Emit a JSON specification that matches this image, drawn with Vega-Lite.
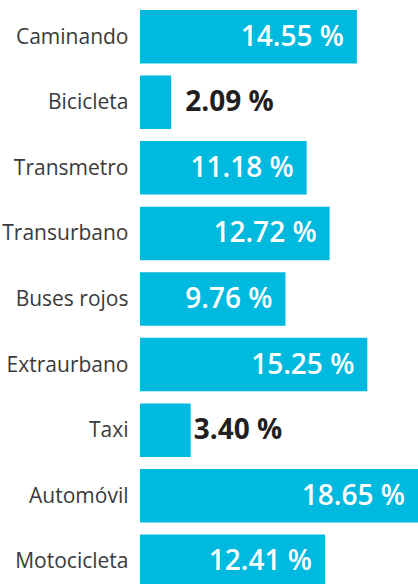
{
  "$schema": "https://vega.github.io/schema/vega-lite/v6.json",
  "autosize": "none",
  "width": 278,
  "height": 598,
  "padding": {"left": 140, "top": 0, "right": 0, "bottom": 0},
  "background": "white",
  "config": {"view": {"stroke": null}, "font": "Open Sans"},
  "data": {"values": [
    {"modo": "Caminando", "pct": 14.55},
    {"modo": "Bicicleta", "pct": 2.09},
    {"modo": "Transmetro", "pct": 11.18},
    {"modo": "Transurbano", "pct": 12.72},
    {"modo": "Buses rojos", "pct": 9.76},
    {"modo": "Extraurbano", "pct": 15.25},
    {"modo": "Taxi", "pct": 3.40},
    {"modo": "Automóvil", "pct": 18.65},
    {"modo": "Motocicleta", "pct": 12.41}
  ]},
  "transform": [{"calculate": "format(datum.pct, '.2f') + ' %'", "as": "label"}],
  "encoding": {
    "y": {"field": "modo", "type": "nominal", "sort": null,
      "scale": {"paddingInner": 0.185, "paddingOuter": 0.152},
      "axis": {"title": null, "domain": false, "ticks": false, "labelPadding": 12, "labelOffset": 1,
        "labelFont": "Open Sans", "labelFontSize": 21, "labelColor": "#3a3a3a", "labelFontWeight": "normal"}},
    "x": {"field": "pct", "type": "quantitative", "scale": {"domain": [0, 18.65], "nice": false, "zero": true}, "axis": null}
  },
  "layer": [
    {"mark": {"type": "bar", "color": "#00b9de", "clip": false}},
    {"transform": [{"filter": "datum.pct > 5"}],
     "mark": {"type": "text", "align": "right", "baseline": "middle", "dx": -13, "dy": 1, "font": "Open Sans", "fontSize": 28, "fontWeight": 600, "color": "white"},
     "encoding": {"text": {"field": "label", "type": "nominal"}}},
    {"transform": [{"filter": "datum.modo == 'Bicicleta'"}],
     "mark": {"type": "text", "align": "left", "baseline": "middle", "dx": 14, "dy": 1, "font": "Open Sans", "fontSize": 28, "fontWeight": "bold", "color": "#231f20"},
     "encoding": {"text": {"field": "label", "type": "nominal"}}},
    {"transform": [{"filter": "datum.modo == 'Taxi'"}],
     "mark": {"type": "text", "align": "left", "baseline": "middle", "dx": 3, "dy": 1, "font": "Open Sans", "fontSize": 28, "fontWeight": "bold", "color": "#231f20"},
     "encoding": {"text": {"field": "label", "type": "nominal"}}}
  ]
}
